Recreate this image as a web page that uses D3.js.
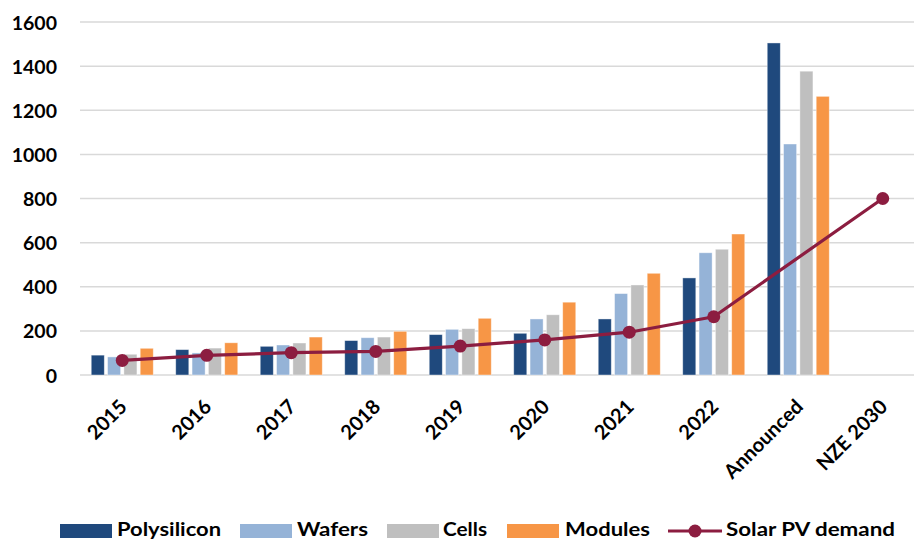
<!DOCTYPE html>
<html>
<head>
<meta charset="utf-8">
<script src="https://cdn.jsdelivr.net/npm/d3@7/dist/d3.min.js"></script>
<style>
  html, body { margin: 0; padding: 0; background: #fff; }
  svg { display: block; }
  text { font-family: Lato, "Open Sans", sans-serif; font-weight: 700; fill: #000; }
</style>
</head>
<body>
<svg id="chart" width="914" height="540"></svg>
<script>
// Manufacturing capacity by supply-chain stage vs. solar PV demand (GW)
const categories = ["2015", "2016", "2017", "2018", "2019", "2020", "2021", "2022", "Announced", "NZE 2030"];
const seriesNames = ["Polysilicon", "Wafers", "Cells", "Modules"];
const polysilicon = [90, 115, 130, 156, 183, 189, 254, 440, 1505, null];
const wafers      = [82, 100, 136, 169, 207, 254, 369, 554, 1047, null];
const cells       = [94, 122, 145, 172, 210, 273, 408, 570, 1377, null];
const modules     = [121, 146, 172, 198, 257, 330, 461, 639, 1263, null];
const demand      = [66, 89, 101, 107, 131, 159, 194, 264, null, 800];
const yTicks      = [0, 200, 400, 600, 800, 1000, 1200, 1400, 1600];
const legendLabels = ["Polysilicon", "Wafers", "Cells", "Modules", "Solar PV demand"];

const colors = {
  Polysilicon: "#1F497D",
  Wafers: "#95B3D7",
  Cells: "#BFBFBF",
  Modules: "#F79646"
};
const lineColor = "#8C1D40";

const svg = d3.select("#chart");
const plot = { left: 80, right: 925, top: 22, bottom: 375 };

const y = d3.scaleLinear().domain([0, 1600]).range([plot.bottom, plot.top]);
const x0 = d3.scaleBand().domain(categories).range([plot.left, plot.right])
  .paddingInner(0.266).paddingOuter(0.133);
const x1 = d3.scaleBand().domain(seriesNames).range([0, x0.bandwidth()]).paddingInner(0.2);

// Gridlines
svg.append("g")
  .selectAll("line")
  .data(yTicks)
  .join("line")
  .attr("x1", plot.left).attr("x2", 914)
  .attr("y1", d => y(d)).attr("y2", d => y(d))
  .attr("stroke", "#D9D9D9").attr("stroke-width", 1.5);

// Y axis labels
const yAxis = d3.axisLeft(y).tickValues(yTicks).tickFormat(d3.format("d")).tickSize(0).tickPadding(0);
svg.append("g")
  .attr("transform", `translate(57,0)`)
  .call(yAxis)
  .call(g => g.select(".domain").remove())
  .call(g => g.selectAll("text")
    .attr("font-size", 19.5)
    .attr("font-family", "Lato, sans-serif")
    .attr("font-weight", 700)
    .attr("fill", "#000")
    .attr("dy", "0.36em"));

// Bars
const seriesValues = { Polysilicon: polysilicon, Wafers: wafers, Cells: cells, Modules: modules };
const barData = [];
categories.forEach((c, i) => {
  seriesNames.forEach(s => {
    const v = seriesValues[s][i];
    if (v != null) barData.push({ cat: c, series: s, value: v });
  });
});
svg.append("g")
  .selectAll("rect")
  .data(barData)
  .join("rect")
  .attr("x", d => x0(d.cat) + x1(d.series))
  .attr("width", x1.bandwidth())
  .attr("y", d => y(d.value))
  .attr("height", d => y(0) - y(d.value))
  .attr("fill", d => colors[d.series])
  .attr("stroke", "#fff").attr("stroke-opacity", 0.5).attr("stroke-width", 0.8);

// Demand line (connects defined points, skipping missing categories)
const demandPts = categories
  .map((c, i) => ({ cat: c, value: demand[i] }))
  .filter(d => d.value != null);
const line = d3.line()
  .x(d => x0(d.cat) + x0.bandwidth() / 2)
  .y(d => y(d.value));
svg.append("path")
  .datum(demandPts)
  .attr("d", line)
  .attr("fill", "none")
  .attr("stroke", lineColor)
  .attr("stroke-width", 3.2)
  .attr("stroke-linejoin", "round");
svg.append("g")
  .selectAll("circle")
  .data(demandPts)
  .join("circle")
  .attr("cx", d => x0(d.cat) + x0.bandwidth() / 2)
  .attr("cy", d => y(d.value))
  .attr("r", 6.5)
  .attr("fill", lineColor);

// X axis labels, rotated
svg.append("g")
  .selectAll("text")
  .data(categories)
  .join("text")
  .attr("transform", d => `translate(${x0(d) + x0.bandwidth() / 2 + 6},${408}) rotate(-45)`)
  .attr("text-anchor", "end")
  .attr("font-size", 20)
  .text(d => d);

// Legend
const legendLayout = [
  { sx: 60, tx: 117, tw: 104 },
  { sx: 240, tx: 297, tw: 71 },
  { sx: 387, tx: 443, tw: 44 },
  { sx: 507, tx: 565, tw: 85 },
  { sx: 668, tx: 726, tw: 169 }
];
const legend = svg.append("g");
legendLabels.forEach((name, i) => {
  const pos = legendLayout[i];
  if (colors[name]) {
    legend.append("rect")
      .attr("x", pos.sx).attr("y", 524)
      .attr("width", 52).attr("height", 14)
      .attr("fill", colors[name]);
  } else {
    legend.append("line")
      .attr("x1", pos.sx).attr("x2", pos.sx + 54)
      .attr("y1", 531).attr("y2", 531)
      .attr("stroke", lineColor).attr("stroke-width", 3.2);
    legend.append("circle")
      .attr("cx", pos.sx + 27).attr("cy", 531).attr("r", 6.5)
      .attr("fill", lineColor);
  }
  legend.append("text")
    .attr("x", pos.tx).attr("y", 536)
    .attr("font-size", 19)
    .attr("textLength", pos.tw)
    .attr("lengthAdjust", "spacingAndGlyphs")
    .text(name);
});
</script>
</body>
</html>
